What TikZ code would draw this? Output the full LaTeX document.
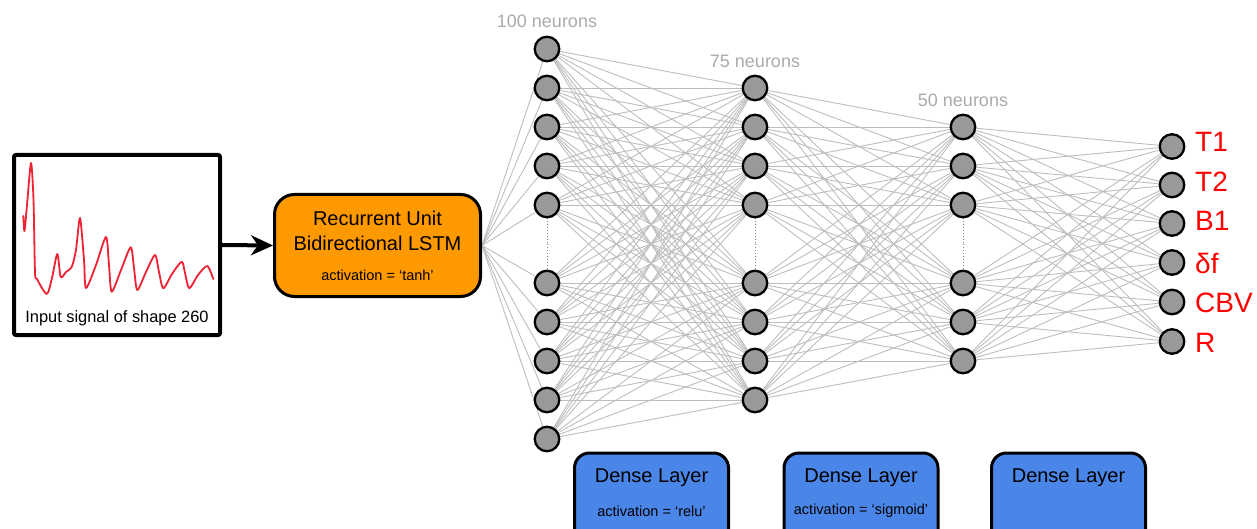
\documentclass[tikz,border=0pt]{standalone}
\usepackage{fontspec}
\setmainfont{Liberation Sans}
\usetikzlibrary{arrows.meta,backgrounds}
\definecolor{neuronfill}{HTML}{999999}
\definecolor{connc}{HTML}{BDBDBD}
\definecolor{labelgray}{HTML}{AAAAAA}
\definecolor{lstmorange}{HTML}{FF9900}
\definecolor{denseblue}{HTML}{4A86E8}
\definecolor{sigred}{HTML}{EE2233}
\begin{document}
\begin{tikzpicture}[x=1pt,y=-1pt,
  neuron/.style={circle,draw=black,line width=2.3pt,fill=neuronfill,minimum size=24.5pt,inner sep=0pt},
  conn/.style={draw=connc,line width=0.9pt},
  gap/.style={draw=gray,dotted,line width=0.9pt},
  layerlabel/.style={text=labelgray,font=\fontsize{18}{20}\selectfont},
  outlabel/.style={text=red,font=\fontsize{28}{30}\selectfont,anchor=west,inner sep=0pt},
  bigtext/.style={font=\fontsize{20}{22}\selectfont,inner sep=0pt},
  smalltext/.style={font=\fontsize{14.5}{16}\selectfont,inner sep=0pt},
  densebox/.style={draw=black,line width=3pt,fill=denseblue,rounded corners=15pt,minimum width=154pt,minimum height=110pt,inner sep=0pt}
]
\useasboundingbox (0,0) rectangle (1257,529);
\clip (0,0) rectangle (1257,529);

% input box
\node[draw=black,line width=4pt,rounded corners=2pt,minimum width=206pt,minimum height=180pt,inner sep=0pt] (inp) at (117,245) {};
\node[font=\fontsize{16.4}{18}\selectfont,inner sep=0pt] (inptext) at (117,318) {Input signal of shape 260};
\draw[sigred,line width=1.8pt,line join=round,line cap=round]
  plot[smooth,tension=0.45] coordinates {(23.3,216) (24.5,231) (27,205) (31,163) (33.5,200) (35,272) (37,279) (46.7,294) (52,278) (57.3,254) (60.7,277) (66,272) (71.7,267) (76,250) (80,218) (84,260) (86,288) (96,265) (106,237) (109,265) (111.7,291.7) (121,270) (130.7,247.3) (134,268) (137.3,290) (146,272) (155,255) (159,272) (163.3,288.3) (172,274) (181.7,261.7) (185,273) (189.3,288.3) (198,275) (207.3,266) (213.3,279)};

% LSTM box
\node[draw=black,line width=3pt,fill=lstmorange,rounded corners=20pt,minimum width=206pt,minimum height=102pt,inner sep=0pt] (lstm) at (377.5,245.5) {};
\node[bigtext] (lstm1) at (377.5,218) {Recurrent Unit};
\node[bigtext] (lstm2) at (377.5,243) {Bidirectional LSTM};
\node[smalltext] (lstm3) at (377.5,275) {activation = ‘tanh’};

\draw[line width=4pt,-{Stealth[length=22pt,width=20pt,inset=7pt]}] (inp.east) -- (lstm.west);

% layers
\foreach \y [count=\i] in {49,88,127,166,205,283,322,361,400,439}
  \node[neuron] (a\i) at (547,\y) {};
\foreach \y [count=\i] in {88,127,166,205,283,322,361,400}
  \node[neuron] (b\i) at (755,\y) {};
\foreach \y [count=\i] in {127,166,205,283,322,361}
  \node[neuron] (c\i) at (963,\y) {};
\foreach \y [count=\i] in {146.5,185,223.5,262.5,302,341.5}
  \node[neuron] (d\i) at (1172,\y) {};

\begin{scope}[on background layer]
  \foreach \i in {1,...,10} \draw[conn] (lstm.east) -- (a\i);
  \foreach \i in {1,...,10} \foreach \j in {1,...,8} \draw[conn] (a\i) -- (b\j);
  \foreach \i in {1,...,8} \foreach \j in {1,...,6} \draw[conn] (b\i) -- (c\j);
  \foreach \i in {1,...,6} \foreach \j in {1,...,6} \draw[conn] (c\i) -- (d\j);
  \draw[gap] (a5) -- (a6);
  \draw[gap] (b4) -- (b5);
  \draw[gap] (c3) -- (c4);
\end{scope}

\node[layerlabel] (la) at (547,21) {100 neurons};
\node[layerlabel] (lb) at (755,61) {75 neurons};
\node[layerlabel] (lc) at (963,100) {50 neurons};

\node[outlabel] (o1) at (1195,142) {T1};
\node[outlabel] (o2) at (1195,181.5) {T2};
\node[outlabel] (o3) at (1195,221) {B1};
\node[outlabel] (o4) at (1195,263) {δf};
\node[outlabel] (o5) at (1195,303) {CBV};
\node[outlabel] (o6) at (1195,342.5) {R};

% dense boxes
\node[densebox] (d1box) at (651.5,508) {};
\node[bigtext] (d1t) at (651.5,478) {Dense Layer};
\node[smalltext] (d1a) at (651.5,511) {activation = ‘relu’};
\node[densebox] (d2box) at (861,508) {};
\node[bigtext] (d2t) at (861,478) {Dense Layer};
\node[smalltext] (d2a) at (861,511) {activation = ‘sigmoid’};
\node[densebox] (d3box) at (1068.5,508) {};
\node[bigtext] (d3t) at (1068.5,478) {Dense Layer};
\end{tikzpicture}
\end{document}
